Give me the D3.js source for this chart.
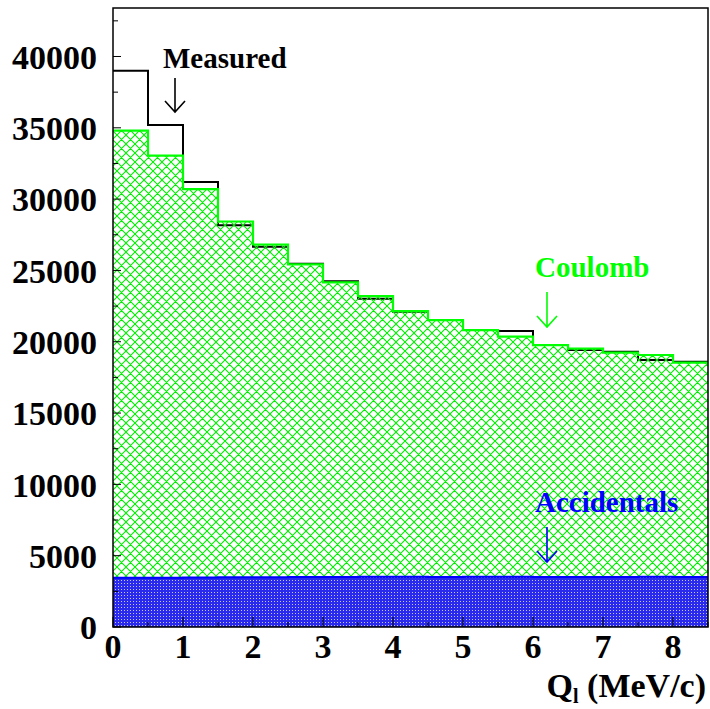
<!DOCTYPE html>
<html>
<head>
<meta charset="utf-8">
<script src="https://cdn.jsdelivr.net/npm/d3@7"></script>
<style>
  body { margin: 0; background: #fff; }
  svg { display: block; }
  text { font-family: "Liberation Serif", "Times New Roman", serif; font-weight: bold; }
</style>
</head>
<body>
<svg id="chart" width="710" height="709"></svg>
<script>
// bin lower edges, 0.5 MeV/c wide
const binEdges = [0, 0.5, 1, 1.5, 2, 2.5, 3, 3.5, 4, 4.5, 5, 5.5, 6, 6.5, 7, 7.5, 8];
const measured = [39000, 35200, 31200, 28170, 26660, 25470, 24250, 23020, 22100, 21520, 20820, 20750, 19770, 19420, 19300, 18720, 18600];
const coulomb = [34800, 33050, 30700, 28430, 26820, 25420, 24160, 23200, 22150, 21520, 20820, 20360, 19760, 19520, 19240, 19070, 18540];
const accidentals = [3450, 3450, 3470, 3480, 3480, 3500, 3500, 3520, 3520, 3510, 3530, 3520, 3510, 3500, 3500, 3530, 3500];
const yTicks = [0, 5000, 10000, 15000, 20000, 25000, 30000, 35000, 40000];
const xTicks = [0, 1, 2, 3, 4, 5, 6, 7, 8];

const svg = d3.select('#chart');
const x = d3.scaleLinear().domain([0, 8.5]).range([113, 708]);
const y = d3.scaleLinear().domain([0, 43400]).range([627, 8]);

// patterns
const defs = svg.append('defs');
const hatch = defs.append('pattern')
    .attr('id', 'hatch').attr('patternUnits', 'userSpaceOnUse')
    .attr('width', 9).attr('height', 9);
hatch.append('path')
    .attr('d', 'M0,0L9,9M9,0L0,9M-1,8L1,10M8,-1L10,1')
    .attr('stroke', '#00ee00').attr('stroke-width', 1.1).attr('fill', 'none');

const dots = defs.append('pattern')
    .attr('id', 'dots').attr('patternUnits', 'userSpaceOnUse')
    .attr('width', 3).attr('height', 3);
dots.append('rect').attr('width', 3).attr('height', 3).attr('fill', '#2a2aec');
dots.append('rect').attr('x', 1).attr('y', 1).attr('width', 1).attr('height', 1).attr('fill', '#c4c4ff');

// step points incl. the closing edge at 8.5
function steps(vals) {
    const pts = binEdges.map((e, i) => [e, vals[i]]);
    pts.push([8.5, vals[vals.length - 1]]);
    return pts;
}

const stepLine = d3.line().x(d => x(d[0])).y(d => y(d[1])).curve(d3.curveStepAfter);
const stepArea = d3.area().x(d => x(d[0])).y0(y(0)).y1(d => y(d[1])).curve(d3.curveStepAfter);

// measured
svg.append('path')
    .attr('d', stepLine(steps(measured)))
    .attr('fill', 'none').attr('stroke', '#000').attr('stroke-width', 2);

// coulomb
svg.append('path')
    .attr('d', stepArea(steps(coulomb)))
    .attr('fill', 'url(#hatch)');
svg.append('path')
    .attr('d', stepLine(steps(coulomb)))
    .attr('fill', 'none').attr('stroke', '#00ff00').attr('stroke-width', 2.2);

// accidentals
svg.append('path')
    .attr('d', stepArea(steps(accidentals)))
    .attr('fill', 'url(#dots)');
svg.append('path')
    .attr('d', stepLine(steps(accidentals)))
    .attr('fill', 'none').attr('stroke', '#0000ff').attr('stroke-width', 2);

// frame
svg.append('rect')
    .attr('x', x(0)).attr('y', y(43400))
    .attr('width', x(8.5) - x(0)).attr('height', y(0) - y(43400))
    .attr('fill', 'none').attr('stroke', '#000').attr('stroke-width', 1.5);

// y ticks, inside
d3.range(0, 43400, 2500).forEach(v => {
    const major = v % 5000 === 0;
    svg.append('line')
        .attr('x1', x(0)).attr('x2', x(0) + (major ? 8 : 5))
        .attr('y1', y(v)).attr('y2', y(v))
        .attr('stroke', '#000').attr('stroke-width', 1);
});
// x ticks, inside
d3.range(0, 8.51, 0.5).forEach(v => {
    const major = v % 1 === 0;
    svg.append('line')
        .attr('x1', x(v)).attr('x2', x(v))
        .attr('y1', y(0)).attr('y2', y(0) - (major ? 10 : 5))
        .attr('stroke', '#000').attr('stroke-width', 1);
});

svg.selectAll('.ylab').data(yTicks).join('text')
    .attr('x', 97).attr('y', d => y(d)).attr('dy', '0.36em')
    .attr('text-anchor', 'end').attr('font-size', 34)
    .text(d => d);

svg.selectAll('.xlab').data(xTicks).join('text')
    .attr('x', d => x(d)).attr('y', 658)
    .attr('text-anchor', 'middle').attr('font-size', 34)
    .text(d => d);

const title = svg.append('text')
    .attr('x', 706).attr('y', 697).attr('text-anchor', 'end').attr('font-size', 34);
title.append('tspan').text('Q');
title.append('tspan').attr('font-size', 20).attr('dy', 6).text('l');
title.append('tspan').attr('dy', -6).text(' (MeV/c)');

// annotations
function label(txt, tx, ty, ax, ay1, ay2, color) {
    svg.append('text').attr('x', tx).attr('y', ty).attr('font-size', 29)
        .attr('fill', color).text(txt);
    svg.append('path')
        .attr('d', `M${ax},${ay1}L${ax},${ay2}M${ax - 10},${ay2 - 11}L${ax},${ay2}L${ax + 10},${ay2 - 11}`)
        .attr('fill', 'none').attr('stroke', color).attr('stroke-width', 1.6);
}
label('Measured', 163, 68, 175, 78, 112, '#000');
label('Coulomb', 535, 277, 547, 292, 327, '#00ff00');
label('Accidentals', 535, 512, 547, 527, 562, '#0000ff');
</script>
</body>
</html>
